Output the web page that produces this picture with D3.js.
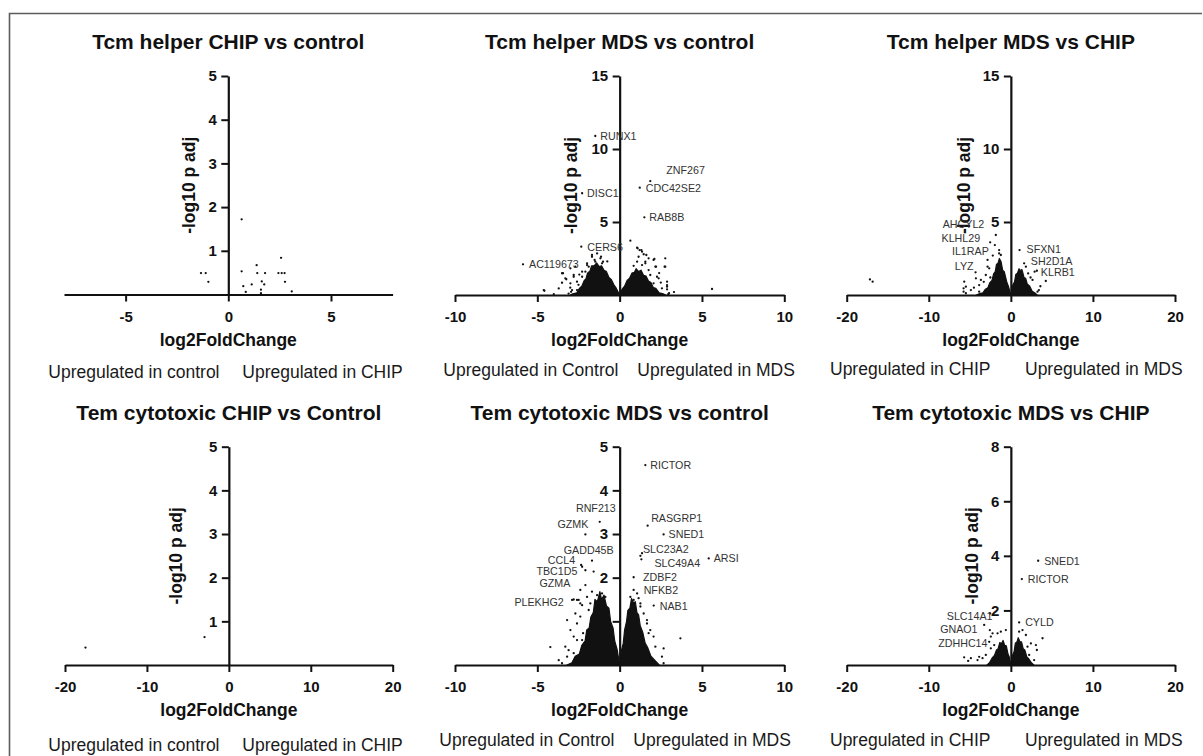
<!DOCTYPE html>
<html>
<head>
<meta charset="utf-8">
<script src="https://cdn.jsdelivr.net/npm/d3@7"></script>
<style>
  body { margin: 0; background: #fff; }
  svg text { font-family: Arial, "Liberation Sans", sans-serif; }
</style>
</head>
<body>
<svg id="chart" width="1203" height="756"></svg>
<script>
// ---------- data: [log2FoldChange, -log10 p adj] ----------

const titles = [
  "Tcm helper CHIP vs control",
  "Tcm helper MDS vs control",
  "Tcm helper MDS vs CHIP",
  "Tem cytotoxic CHIP vs Control",
  "Tem cytotoxic MDS vs control",
  "Tem cytotoxic MDS vs CHIP"
];
const leftNotes = ["Upregulated in control", "Upregulated in Control", "Upregulated in CHIP",
                   "Upregulated in control", "Upregulated in Control", "Upregulated in CHIP"];
const rightNotes = ["Upregulated in CHIP", "Upregulated in MDS", "Upregulated in MDS",
                    "Upregulated in CHIP", "Upregulated in MDS", "Upregulated in MDS"];

const xTicksEight = [-5, 0, 5];
const xTicksTen = [-10, -5, 0, 5, 10];
const xTicksTwenty = [-20, -10, 0, 10, 20];
const yTicksFive = [1, 2, 3, 4, 5];
const yTicksFifteen = [5, 10, 15];
const yTicksEight = [2, 4, 6, 8];

// Tcm helper CHIP vs control
const tcmChipCtrlGenes = [[0.65,1.72],[-1.33,0.49],[-1.1,0.49],[-0.97,0.29],[0.65,0.53],[0.73,0.19],
  [0.85,0.06],[1.14,0.23],[1.38,0.67],[1.41,0.49],[1.63,0.30],[1.75,0.23],[1.59,0.11],[1.59,0.03],
  [1.79,0.49],[2.57,0.84],[2.44,0.49],[2.6,0.49],[2.74,0.49],[2.76,0.29],[3.09,0.07]];

// Tcm helper MDS vs control
const tcmMdsCtrlGenes = [[0.65,3.72],[1.06,3.24],[1.32,3.08],[2.11,2.47],[2.77,2.51],[2.73,1.94],
  [2.21,1.94],[2.88,0.91],[2.88,0.57],[5.61,0.41],[-4.61,0.34],[-4.0,0.05],[-3.5,1.49],[-3.3,1.14],
  [-2.99,1.83],[-2.79,1.37],[-2.59,0.91],[-2.89,0.34],[-2.28,1.6],[-1.98,2.05],[-1.68,2.62],
  [-1.37,2.85],[-1.13,2.62],[-1.01,2.28],[-1.52,2.4],[1.06,2.28],[1.36,2.05],[1.56,2.28],[1.76,1.71],
  [1.86,1.37],[2.37,1.14],[2.57,0.46],[2.27,0.23],[2.06,0.8],[1.46,2.79],[1.15,2.62],[1.09,3.2],
  [1.21,3.08],[1.36,2.97],[1.62,2.74],[1.76,2.51],[1.56,2.17],[2.06,2.4],[2.17,1.94],[2.77,1.94],
  [2.27,1.25],[2.88,0.68],[2.88,0.39],[-4.57,0.29],[-3.44,1.49],[-3.24,1.08],[-2.99,0.8],[-3.5,0.84],
  [-2.69,1.94],[-2.79,1.25],[-2.59,0.34],[-1.68,2.74],[-1.17,2.51],[-1.07,2.17],[-1.48,2.28],
  [-1.98,2.17],[-1.88,1.94],[-2.08,1.6],[-2.28,1.25],[-3.1,0.1],[-2.95,0.22],[3.0,0.12],[2.95,0.05],
  [-3.7,0.45],[3.3,0.2],[-2.45,1.4],[-2.5,0.7],[-3.0,0.5],[2.5,0.85],[2.4,1.5],[-0.75,2.3],[0.85,2.0]];
const tcmMdsCtrlNamed = [["RUNX1",-1.48,10.89],["DISC1",-2.28,6.97],["ZNF267",1.86,7.8],
  ["CDC42SE2",1.22,7.35],["RAB8B",1.5,5.32],["CERS6",-2.33,3.31],["AC119673",-5.87,2.1]];
const tcmMdsCtrlCoreLeft = [[0,0],[-0.2,0.45],[-0.35,0.7],[-0.5,1.05],[-0.65,1.2],[-0.8,1.6],
  [-0.95,1.7],[-1.1,2.0],[-1.25,1.95],[-1.4,2.2],[-1.55,2.0],[-1.7,2.0],[-1.8,1.65],[-1.95,1.5],
  [-2.05,1.1],[-2.15,1.0],[-2.3,0.6],[-2.45,0.45],[-2.6,0.15],[-2.85,0.08],[-3.0,0]];
const tcmMdsCtrlCoreRight = [[0,0],[0.15,0.4],[0.3,0.6],[0.45,1.0],[0.6,1.15],[0.75,1.5],[0.9,1.55],
  [1.0,1.8],[1.15,1.6],[1.3,1.7],[1.45,1.35],[1.6,1.3],[1.75,0.95],[1.9,0.85],[2.05,0.5],[2.2,0.45],
  [2.4,0.15],[2.6,0.1],[2.8,0]];

// Tcm helper MDS vs CHIP
const tcmMdsChipGenes = [[-17.17,1.07],[-16.84,0.91],[-4.26,1.14],[-5.68,0.91],[-5.76,0.46],
  [-5.48,0.12],[-3.65,1.03],[-2.84,2.4],[-2.64,1.83],[-3.05,1.37],[-4.87,0.34],[-3.86,0.23],
  [-1.43,3.08],[-1.22,2.74],[-5.48,0.57],[-5.76,0.23],[-3.86,0.68],[-2.84,1.94],[-1.43,2.85],
  [-1.95,3.42],[1.3,1.71],[1.62,2.17],[2.11,1.48],[2.64,1.03],[3.25,0.23],[3.42,0.34],[1.83,0.68],
  [4.26,0.96],[2.9,1.6],[-3.3,0.9],[-4.5,0.5],[-2.5,1.2],[2.4,1.2],[3.6,0.6]];
const tcmMdsChipNamed = [["AHCYL2",-1.83,4.11],["KLHL29",-2.52,3.61],["IL1RAP",-2.2,2.7],
  ["LYZ",-4.3,1.55],["SFXN1",1.06,3.08],["SH2D1A",1.83,1.94],["KLRB1",3.17,1.66]];
const tcmMdsChipCoreLeft = [[0,0],[-0.3,0.6],[-0.5,0.9],[-0.8,1.6],[-1.0,1.7],[-1.2,2.3],[-1.4,2.5],
  [-1.55,2.2],[-1.75,2.1],[-1.9,1.6],[-2.1,1.45],[-2.3,1.0],[-2.55,0.85],[-2.8,0.5],[-3.1,0.4],
  [-3.4,0.15],[-3.8,0.1],[-4.2,0]];
const tcmMdsChipCoreRight = [[0,0],[0.25,0.7],[0.45,0.9],[0.6,1.4],[0.8,1.5],[1.0,1.8],[1.2,1.6],
  [1.4,1.65],[1.6,1.2],[1.8,1.15],[2.0,0.75],[2.3,0.6],[2.6,0.25],[2.9,0.15],[3.2,0]];

// Tem cytotoxic CHIP vs Control
const temChipCtrlGenes = [[-17.5,0.4],[-2.97,0.64]];

// Tem cytotoxic MDS vs control
const temMdsCtrlGenes = [[-4.21,0.41],[-3.7,0.11],[-3.5,0.04],[-3.19,0.19],[-3.1,0.34],[-2.79,0.65],
  [-2.59,0.95],[-2.39,1.11],[-2.28,1.37],[-2.59,1.49],[-2.39,1.72],[-1.98,1.56],[-1.68,1.68],
  [-1.37,1.6],[-1.07,1.64],[-0.87,1.56],[-1.27,1.49],[-2.22,0.73],[-2.14,0.5],[-2.28,0.57],
  [-1.88,1.26],[-1.78,1.41],[0.65,1.56],[0.85,1.49],[1.15,1.53],[1.26,1.41],[0.95,1.26],[1.46,1.18],
  [1.66,0.95],[1.76,0.73],[2.06,0.65],[2.17,0.42],[2.67,0.38],[2.57,0.19],[2.67,0.04],[1.97,0.11],
  [1.66,0.27],[3.69,0.61],[-2.34,2.29],[-2.49,1.49],[-1.58,2.14],[1.36,2.56],
  [-3.19,1.03],[-2.99,0.8],[-3.3,0.42],[-2.79,0.27],[-2.59,0.57],[-2.69,1.18],[-2.39,1.41],
  [-2.89,1.49],[1.66,1.03],[1.86,0.8],[1.46,0.42],[1.76,0.19],[1.26,1.34],[1.06,1.64]];
const temMdsCtrlNamed = [["RICTOR",1.56,4.58],["RNF213",-1.21,3.28],["GZMK",-2.08,2.99],
  ["RASGRP1",1.7,3.19],["SNED1",2.67,2.99],["SLC23A2",1.26,2.5],["SLC49A4",1.32,2.42],
  ["ARSI",5.41,2.44],["ZDBF2",0.85,2.01],["NFKB2",0.85,1.72],["NAB1",2.07,1.36],
  ["GADD45B",-1.68,2.39],["CCL4",-2.28,2.25],["TBC1D5",-2.08,2.17],["GZMA",-2.08,1.83],
  ["PLEKHG2",-2.79,1.5]];
const temMdsCtrlCoreLeft = [[0,0],[-0.15,0.35],[-0.3,0.55],[-0.4,0.85],[-0.55,1.0],[-0.65,1.3],
  [-0.8,1.35],[-0.95,1.6],[-1.1,1.5],[-1.2,1.68],[-1.35,1.45],[-1.5,1.5],[-1.6,1.2],[-1.75,1.1],
  [-1.85,0.85],[-2.0,0.8],[-2.1,0.55],[-2.3,0.45],[-2.45,0.25],[-2.7,0.2],[-2.9,0.05],[-3.2,0]];
const temMdsCtrlCoreRight = [[0,0],[0.12,0.35],[0.22,0.5],[0.3,0.8],[0.42,1.0],[0.5,1.25],[0.62,1.3],
  [0.72,1.52],[0.85,1.42],[0.95,1.45],[1.05,1.2],[1.15,1.15],[1.25,0.9],[1.4,0.75],[1.55,0.5],
  [1.7,0.4],[1.9,0.2],[2.1,0.12],[2.4,0]];

// Tem cytotoxic MDS vs CHIP
const temMdsChipGenes = [[-4.87,0.25],[-4.06,0.18],[-3.45,0.25],[-3.05,0.37],[-3.86,0.3],[-2.44,0.61],
  [-2.03,0.73],[-2.64,0.85],[-1.62,1.16],[-1.22,1.22],[-0.61,1.28],[1.42,1.28],[1.83,1.1],[2.03,0.67],
  [2.23,0.37],[2.44,0.79],[1.62,0.25],[1.01,1.22],[-5.69,0.28],[-5.2,0.15],[3.05,0.73],[3.17,0.55],
  [2.84,0.18],[3.86,0.98],[-2.56,1.28],[-2.23,1.16]];
const temMdsChipNamed = [["SNED1",3.33,3.82],["RICTOR",1.34,3.15],["CYLD",1.01,1.56],
  ["SLC14A1",-2.52,1.89],["GNAO1",-3.25,1.47],["ZDHHC14",-2.44,1.04]];
const temMdsChipCoreLeft = [[0,0],[-0.2,0.3],[-0.35,0.4],[-0.55,0.7],[-0.75,0.72],[-0.95,0.9],
  [-1.15,0.78],[-1.35,0.82],[-1.55,0.6],[-1.75,0.55],[-2.0,0.35],[-2.3,0.25],[-2.6,0.08],[-2.9,0]];
const temMdsChipCoreRight = [[0,0],[0.2,0.35],[0.4,0.5],[0.55,0.8],[0.75,0.85],[0.9,1.0],[1.1,0.85],
  [1.3,0.85],[1.5,0.6],[1.7,0.55],[1.95,0.3],[2.2,0.22],[2.5,0.08],[2.8,0]];

// ---------- layout ----------

const frames = [
  { x0: 64,    x1: 392.6, yTop: 76,    yBase: 294.5, yLabelX: 189.3, noteL: 48.3,  noteR: 242.3, noteY: 371.7 },
  { x0: 455,   x1: 784.3, yTop: 76,    yBase: 295,   yLabelX: 570.7, noteL: 443.3, noteR: 637.3, noteY: 370 },
  { x0: 846.7, x1: 1175,  yTop: 76,    yBase: 295,   yLabelX: 964,   noteL: 830,   noteR: 1025,  noteY: 368.5 },
  { x0: 65,    x1: 392.7, yTop: 446.7, yBase: 665,   yLabelX: 175.7, noteL: 48.3,  noteR: 242.3, noteY: 745 },
  { x0: 455,   x1: 784.3, yTop: 446.7, yBase: 665,   yLabelX: null,  noteL: 439.3, noteR: 633.3, noteY: 740 },
  { x0: 846.7, x1: 1175,  yTop: 446.7, yBase: 665,   yLabelX: 971.7, noteL: 830,   noteR: 1025,  noteY: 739.5 }
];

// label placement per gene: [dx, dy, anchor]
const labelPlacement = [
  {},
  { RUNX1: [5, 0, "start"], DISC1: [5, 0, "start"], ZNF267: [16, -11, "start"], CDC42SE2: [6, 0, "start"],
    RAB8B: [5, 0, "start"], CERS6: [6, 0, "start"], AC119673: [6, 0, "start"] },
  { AHCYL2: [-11.5, -11, "end"], KLHL29: [-10, -4, "end"], IL1RAP: [-4, -5, "end"], LYZ: [-2, -6, "end"],
    SFXN1: [7, -1, "start"], SH2D1A: [5, -6, "start"], KLRB1: [4, 1, "start"] },
  {},
  { RICTOR: [5, 0, "start"], RNF213: [16, -14, "end"], GZMK: [3, -10.5, "end"], RASGRP1: [3.5, -7.5, "start"],
    SNED1: [5, 0, "start"], SLC23A2: [2.5, -6.5, "start"], SLC49A4: [13, 4, "start"], ARSI: [5, 0, "start"],
    ZDBF2: [9.4, 0, "start"], NFKB2: [10, 0, "start"], NAB1: [6, 0, "start"], GADD45B: [21.7, -10.6, "end"],
    CCL4: [-7, -6.5, "end"], TBC1D5: [-8, 1, "end"], GZMA: [-15, -2, "end"], PLEKHG2: [-10, 2, "end"] },
  { SNED1: [6, 0, "start"], RICTOR: [6, 0, "start"], CYLD: [6, 0, "start"], SLC14A1: [2.4, 3, "end"],
    GNAO1: [-6.6, 4.4, "end"], ZDHHC14: [-3.3, 6, "end"] }
];

const panels = [
  { xDomain: [-8, 8],   yDomain: [0, 5],  xTicks: xTicksEight,  yTicks: yTicksFive,
    points: tcmChipCtrlGenes, named: [], cores: [] },
  { xDomain: [-10, 10], yDomain: [0, 15], xTicks: xTicksTen,    yTicks: yTicksFifteen,
    points: tcmMdsCtrlGenes, named: tcmMdsCtrlNamed, cores: [tcmMdsCtrlCoreLeft, tcmMdsCtrlCoreRight] },
  { xDomain: [-20, 20], yDomain: [0, 15], xTicks: xTicksTwenty, yTicks: yTicksFifteen,
    points: tcmMdsChipGenes, named: tcmMdsChipNamed, cores: [tcmMdsChipCoreLeft, tcmMdsChipCoreRight] },
  { xDomain: [-20, 20], yDomain: [0, 5],  xTicks: xTicksTwenty, yTicks: yTicksFive,
    points: temChipCtrlGenes, named: [], cores: [] },
  { xDomain: [-10, 10], yDomain: [0, 5],  xTicks: xTicksTen,    yTicks: yTicksFive,
    points: temMdsCtrlGenes, named: temMdsCtrlNamed, cores: [temMdsCtrlCoreLeft, temMdsCtrlCoreRight] },
  { xDomain: [-20, 20], yDomain: [0, 8],  xTicks: xTicksTwenty, yTicks: yTicksEight,
    points: temMdsChipGenes, named: temMdsChipNamed, cores: [temMdsChipCoreLeft, temMdsChipCoreRight] }
].map((p, i) => ({ ...p, title: titles[i], noteLeft: leftNotes[i], noteRight: rightNotes[i],
                   frame: frames[i], place: labelPlacement[i] }));

// ---------- drawing ----------

const svg = d3.select("#chart");

// figure frame (left and top rules)
svg.append("path")
  .attr("d", "M9.5,756 V13.5 H1202")
  .attr("fill", "none")
  .attr("stroke", "#5c5c5c")
  .attr("stroke-width", 1.6);

panels.forEach(drawPanel);

function drawPanel(p) {
  const f = p.frame;
  const x = d3.scaleLinear().domain(p.xDomain).range([f.x0, f.x1]);
  const y = d3.scaleLinear().domain(p.yDomain).range([f.yBase, f.yTop]);
  const g = svg.append("g");
  const zx = x(0), zy = y(0);
  const cx = (f.x0 + f.x1) / 2;

  // title
  g.append("text")
    .attr("x", zx).attr("y", f.yTop - 34.3)
    .attr("text-anchor", "middle").attr("dominant-baseline", "central")
    .attr("font-size", 21).attr("font-weight", "bold").attr("fill", "#111")
    .text(p.title);

  // x axis through y = 0
  const xAxis = g.append("g")
    .attr("transform", `translate(0,${zy})`)
    .call(d3.axisBottom(x).tickValues(p.xTicks).tickSize(7).tickSizeOuter(0)
      .tickPadding(9.5).tickFormat(d => String(d)));
  // y axis through x = 0
  const yAxis = g.append("g")
    .attr("transform", `translate(${zx},0)`)
    .call(d3.axisLeft(y).tickValues(p.yTicks).tickSize(7).tickSizeOuter(0)
      .tickPadding(4.5).tickFormat(d => String(d)));

  [xAxis, yAxis].forEach(a => {
    a.select(".domain").attr("stroke", "#111").attr("stroke-width", 2.2);
    a.selectAll(".tick line").attr("stroke", "#111").attr("stroke-width", 2);
    a.selectAll(".tick text")
      .attr("fill", "#111").attr("font-size", 15).attr("font-weight", "bold")
      .attr("font-family", 'Arial, "Liberation Sans", sans-serif');
  });

  // x axis title
  g.append("text")
    .attr("x", cx).attr("y", f.yBase + 45)
    .attr("text-anchor", "middle").attr("dominant-baseline", "central")
    .attr("font-size", 17.5).attr("font-weight", "bold").attr("fill", "#111")
    .text("log2FoldChange");

  // direction notes
  g.append("text")
    .attr("x", f.noteL).attr("y", f.noteY).attr("dominant-baseline", "central")
    .attr("font-size", 17.5).attr("fill", "#1a1a1a").text(p.noteLeft);
  g.append("text")
    .attr("x", f.noteR).attr("y", f.noteY).attr("dominant-baseline", "central")
    .attr("font-size", 17.5).attr("fill", "#1a1a1a").text(p.noteRight);

  // dense cores of the volcano
  const line = d3.line().x(d => x(d[0])).y(d => y(d[1])).curve(d3.curveLinearClosed);
  g.selectAll("path.core").data(p.cores).join("path")
    .attr("class", "core")
    .attr("d", line)
    .attr("fill", "#111").attr("stroke", "#111").attr("stroke-width", 1.2)
    .attr("stroke-linejoin", "round");

  // individual genes
  g.selectAll("circle.gene").data(p.points.concat(p.named.map(d => [d[1], d[2]]))).join("circle")
    .attr("class", "gene")
    .attr("cx", d => x(d[0])).attr("cy", d => y(d[1]))
    .attr("r", 1.15).attr("fill", "#111");

  // y axis title
  if (f.yLabelX !== null) {
    const my = (f.yTop + f.yBase) / 2;
    g.append("text")
      .attr("transform", `translate(${f.yLabelX},${my}) rotate(-90)`)
      .attr("text-anchor", "middle").attr("dominant-baseline", "central")
      .attr("font-size", 17.5).attr("font-weight", "bold").attr("fill", "#111")
      .text("-log10 p adj");
  }

  // gene labels
  g.selectAll("text.gene-label").data(p.named).join("text")
    .attr("class", "gene-label")
    .attr("x", d => x(d[1]) + p.place[d[0]][0])
    .attr("y", d => y(d[2]) + p.place[d[0]][1])
    .attr("text-anchor", d => p.place[d[0]][2])
    .attr("dominant-baseline", "central")
    .attr("font-size", 10.7).attr("fill", "#333")
    .text(d => d[0]);
}
</script>
</body>
</html>
